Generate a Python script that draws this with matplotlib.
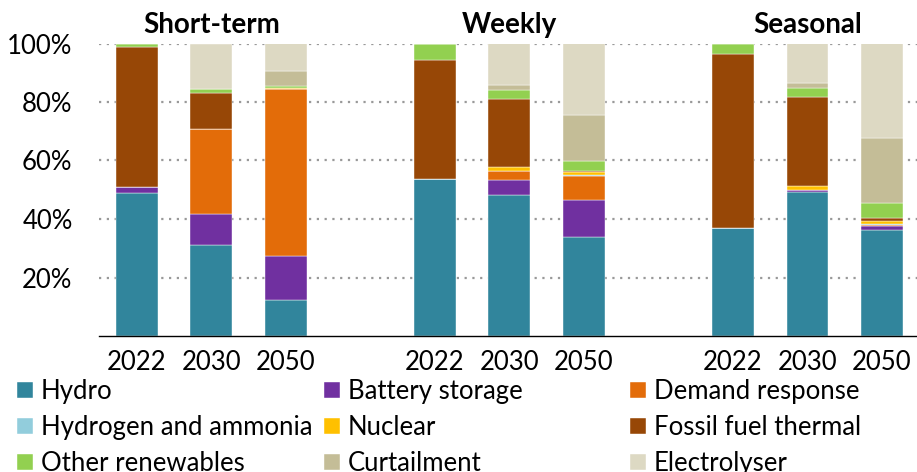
import matplotlib
matplotlib.use("Agg")
import matplotlib.pyplot as plt
import matplotlib.transforms as mtransforms
import numpy as np

plt.rcParams['font.family'] = ['Lato', 'DejaVu Sans']

groups = ["Short-term", "Weekly", "Seasonal"]
years = ["2022", "2030", "2050"]

series = ["Hydro", "Battery storage", "Demand response", "Hydrogen and ammonia",
          "Nuclear", "Fossil fuel thermal", "Other renewables", "Curtailment", "Electrolyser"]

# Bars in order: ST2022, ST2030, ST2050, W2022, W2030, W2050, S2022, S2030, S2050
hydro       = [49.0, 31.0, 12.3, 53.8, 48.3, 33.8, 37.0, 49.2, 36.1]
battery     = [2.0, 10.8, 15.1, 0.0, 5.1, 12.6, 0.0, 0.7, 1.4]
demand      = [0.0, 28.9, 56.9, 0.0, 3.1, 8.2, 0.0, 0.0, 0.5]
hydrogen    = [0.0, 0.0, 0.0, 0.0, 0.0, 0.4, 0.0, 0.0, 0.3]
nuclear     = [0.0, 0.0, 0.4, 0.0, 1.3, 1.0, 0.0, 1.4, 1.0]
fossil      = [47.9, 12.5, 0.0, 40.4, 23.2, 0.3, 59.3, 30.5, 0.9]
other_ren   = [1.1, 1.1, 0.9, 5.8, 3.1, 3.4, 3.7, 2.9, 5.2]
curtailment = [0.0, 0.0, 4.9, 0.0, 1.7, 15.9, 0.0, 1.8, 22.2]
electrolyser= [0.0, 15.7, 9.5, 0.0, 14.2, 24.4, 0.0, 13.5, 32.4]

values = [hydro, battery, demand, hydrogen, nuclear, fossil, other_ren, curtailment, electrolyser]
colors = ["#31859C", "#7030A0", "#E36C09", "#92CDDC", "#FFC000",
          "#974706", "#92D050", "#C4BD97", "#DDD9C3"]

W, H = 917, 472
fig = plt.figure(figsize=(W / 100, H / 100), dpi=100)
ax = fig.add_axes([99 / W, (H - 336) / H, (917 - 99) / W, (336 - 43.5) / H])

# positions: 3 bars per group, one empty slot between groups
pos = []
for g in range(len(groups)):
    for k in range(len(years)):
        pos.append(g * (len(years) + 1) + k)
pos = np.array(pos, dtype=float)

bottom = np.zeros(len(pos))
handles = []
for name, vals, col in zip(series, values, colors):
    v = np.array(vals)
    b = ax.bar(pos, v, width=0.56, bottom=bottom, color=col, label=name,
               edgecolor="white", linewidth=0.3)
    handles.append(b)
    bottom += v

FS = 18.5
ax.set_xlim(-0.506, 10.47)
ax.set_ylim(0, 100)
ax.set_yticks([20, 40, 60, 80, 100])
ax.set_yticklabels(["20%", "40%", "60%", "80%", "100%"])
ax.set_xticks(pos)
ax.set_xticklabels(years * len(groups))
ax.tick_params(axis='both', length=0, labelsize=FS, colors='black')
ax.tick_params(axis='y', pad=19)
ax.tick_params(axis='x', pad=10)

for s in ["left", "right", "top"]:
    ax.spines[s].set_visible(False)
ax.spines["bottom"].set_color("black")
ax.spines["bottom"].set_linewidth(1.0)

ax.set_axisbelow(True)
ax.yaxis.grid(True, linestyle=(0, (1, 2.5)), color="#999999", linewidth=1.6)

trans = mtransforms.blended_transform_factory(ax.transData, ax.transAxes)
for g, name in enumerate(groups):
    cx = g * (len(years) + 1) + 1
    ax.text(cx, 1.036, name, transform=trans, ha="center", va="baseline",
            fontsize=20, fontweight="bold")

# legend: three columns placed manually
cols_x = [17, 324, 630]
order = [[0, 3, 6], [1, 4, 7], [2, 5, 8]]
for cx, idxs in zip(cols_x, order):
    fig.legend([handles[i] for i in idxs], [series[i] for i in idxs],
               loc="center left", bbox_to_anchor=(cx / W, 1 - 427.5 / H),
               frameon=False, fontsize=FS, borderpad=0, borderaxespad=0,
               handlelength=0.62, handleheight=0.62, handletextpad=0.3,
               labelspacing=0.43)

fig.savefig("out.png", dpi=100)
